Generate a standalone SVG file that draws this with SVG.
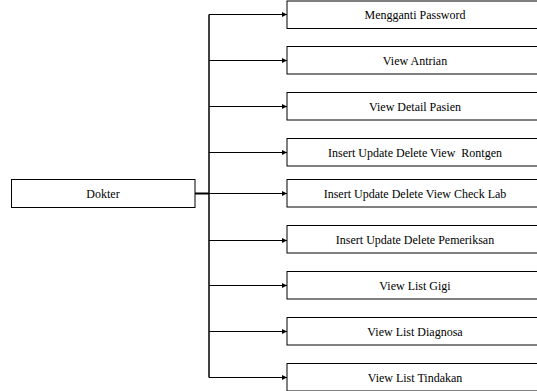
<svg xmlns="http://www.w3.org/2000/svg" width="537" height="391" viewBox="0 0 537 391">
<defs>
<marker id="ah" markerWidth="6" markerHeight="6" refX="5" refY="3" orient="auto" markerUnits="userSpaceOnUse">
<path d="M0,0.6 L5,3 L0,5.4 Z" fill="#000"/>
</marker>
</defs>
<style>
.box{fill:#fff;stroke:#000;stroke-width:1}
.lbl{font-family:"Liberation Serif","Times New Roman",serif;font-size:12px;fill:#000;text-anchor:middle;white-space:pre}
.c{fill:none;stroke:#000;stroke-width:1}
</style>
<rect width="537" height="391" fill="#fff"/>
<g id="connectors">
<line class="c" x1="209" y1="14.5" x2="209" y2="377.5" style="stroke-width:1.5"/>
<line class="c" x1="195" y1="193.5" x2="209" y2="193.5" style="stroke-width:2"/>
<line class="c" x1="209" y1="14.5" x2="287" y2="14.5" marker-end="url(#ah)"/>
<line class="c" x1="209" y1="60.5" x2="287" y2="60.5" marker-end="url(#ah)"/>
<line class="c" x1="209" y1="106.5" x2="287" y2="106.5" marker-end="url(#ah)"/>
<line class="c" x1="209" y1="152.5" x2="287" y2="152.5" marker-end="url(#ah)"/>
<line class="c" x1="209" y1="193.5" x2="287" y2="193.5" marker-end="url(#ah)"/>
<line class="c" x1="209" y1="240.5" x2="287" y2="240.5" marker-end="url(#ah)"/>
<line class="c" x1="209" y1="285.5" x2="287" y2="285.5" marker-end="url(#ah)"/>
<line class="c" x1="209" y1="331.5" x2="287" y2="331.5" marker-end="url(#ah)"/>
<line class="c" x1="209" y1="377.5" x2="287" y2="377.5" marker-end="url(#ah)"/>
</g>
<g id="dokter">
<rect class="box" x="11.5" y="179.5" width="183.5" height="28"/>
<text class="lbl" x="103" y="197.5">Dokter</text>
</g>
<g id="n1">
<rect class="box" x="287" y="1" width="256" height="27.5"/>
<text class="lbl" x="415" y="18.5">Mengganti Password</text>
</g>
<g id="n2">
<rect class="box" x="287" y="46.5" width="256" height="27.5"/>
<text class="lbl" x="415" y="64.5">View Antrian</text>
</g>
<g id="n3">
<rect class="box" x="287" y="92.5" width="256" height="27.5"/>
<text class="lbl" x="415" y="110.5">View Detail Pasien</text>
</g>
<g id="n4">
<rect class="box" x="287" y="138.5" width="256" height="27.5"/>
<text class="lbl" x="415" y="156.5" xml:space="preserve">Insert Update Delete View  Rontgen</text>
</g>
<g id="n5">
<rect class="box" x="287" y="179.5" width="256" height="27.5"/>
<text class="lbl" x="415" y="197.5">Insert Update Delete View Check Lab</text>
</g>
<g id="n6">
<rect class="box" x="287" y="225.5" width="256" height="27.5"/>
<text class="lbl" x="415" y="244">Insert Update Delete Pemeriksan</text>
</g>
<g id="n7">
<rect class="box" x="287" y="271.5" width="256" height="27.5"/>
<text class="lbl" x="415" y="289.5">View List Gigi</text>
</g>
<g id="n8">
<rect class="box" x="287" y="317.5" width="256" height="27.5"/>
<text class="lbl" x="415" y="335.5">View List Diagnosa</text>
</g>
<g id="n9">
<rect class="box" x="287" y="363.5" width="256" height="27.5"/>
<text class="lbl" x="415" y="381.5">View List Tindakan</text>
</g>
</svg>
